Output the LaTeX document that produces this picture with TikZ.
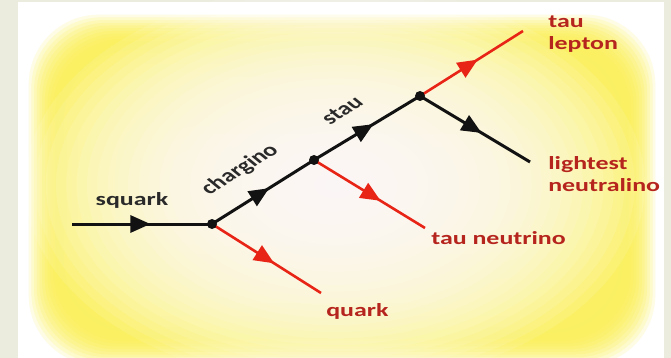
\documentclass[tikz,border=0pt]{standalone}
\usepackage{fontspec}
\setmainfont{Carlito}
\usetikzlibrary{decorations.markings,arrows.meta}
\definecolor{bgbeige}{RGB}{236,236,222}
\definecolor{ylw}{RGB}{250,238,80}
\definecolor{redline}{RGB}{232,36,22}
\definecolor{redtext}{RGB}{182,36,30}
\definecolor{blk}{RGB}{18,18,18}
\begin{document}
\begin{tikzpicture}[x=1pt,y=-1pt,
  line/.style={line width=3pt},
  bline/.style={line, draw=blk},
  rline/.style={line, draw=redline, line width=2.6pt},
  mid/.style={postaction={decorate}, decoration={markings,
     mark=at position #1 with {\arrow{Triangle[length=20pt,width=17pt]}}}},
  mid/.default=0.56,
  vtx/.style={circle, fill=blk, inner sep=0pt, minimum size=10pt},
  lbl/.style={font=\fontsize{18.5pt}{22pt}\selectfont\bfseries, inner sep=0pt, xscale=1.4},
  blbl/.style={lbl, text=blk!90},
  rlbl/.style={lbl, text=redtext, align=left}
]
\useasboundingbox (0,0) rectangle (671,358);
\fill[bgbeige] (0,0) rectangle (671,358);
\fill[white] (18,2) rectangle (664,358);
\foreach \i in {0,...,62} {
  \pgfmathsetmacro\dd{2.7*\i}
  \pgfmathsetmacro\pp{\dd<=30 ? 90*(1-(1-\dd/30)^2) : 90-(\dd-30)*0.12}
  \pgfmathsetmacro\rr{min(70,177-\dd)}
  \fill[ylw!\pp!white, rounded corners=\rr pt] ({26+\dd},{12+\dd}) rectangle ({658-\dd},{368-\dd});
}
\foreach \k in {1,...,30} {
  \pgfmathsetmacro\rx{310*\k/30}
  \pgfmathsetmacro\ry{200*\k/30}
  \fill[white, opacity=0.1] (335,185) ellipse [x radius=\rx pt, y radius=\ry pt];
}

\coordinate (A) at (212,224);
\coordinate (B) at (314,160);
\coordinate (C) at (420,96);
\coordinate (S) at (72,224);
\coordinate (Q) at (321,293);
\coordinate (N) at (425,228);
\coordinate (L) at (523,31);
\coordinate (X) at (530,162);

\draw[bline, mid=0.56] (S) -- (A);
\draw[bline, mid] (A) -- (B);
\draw[bline, mid] (B) -- (C);
\draw[rline, mid=0.57, color=redline] (A) -- (Q);
\draw[rline, mid=0.6, color=redline] (B) -- (N);
\draw[rline, mid=0.56, color=redline] (C) -- (L);
\draw[bline, mid=0.56] (C) -- (X);

\node[vtx] (vA) at (A) {};
\node[vtx] (vB) at (B) {};
\node[vtx] (vC) at (C) {};

\node[blbl, anchor=base] (tsq) at (132,205) {squark};
\node[blbl, rotate=41] (tch) at (240,170) {chargino};
\node[blbl, rotate=41] (tst) at (342,110) {stau};
\node[rlbl, anchor=west] (ttl) at (548,34) {tau\\lepton};
\node[rlbl, anchor=west] (tln) at (548,174) {lightest\\neutralino};
\node[rlbl, anchor=base west] (ttn) at (431,244) {tau neutrino};
\node[rlbl, anchor=base west] (tq) at (326,316) {quark};
\end{tikzpicture}
\end{document}
